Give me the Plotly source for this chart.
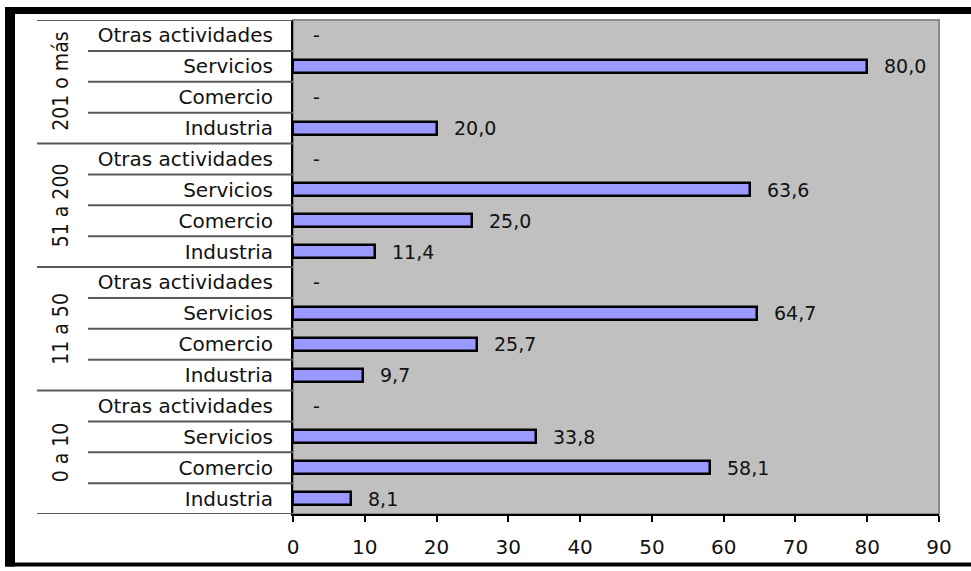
import plotly.graph_objects as go

# Company size groups (bottom to top) and activity sectors within each group
groups = ["0 a 10", "11 a 50", "51 a 200", "201 o más"]
sectors = ["Industria", "Comercio", "Servicios", "Otras actividades"]

# Percentages per group, in sector order
values = {
    "0 a 10":    [8.1, 58.1, 33.8, 0.0],
    "11 a 50":   [9.7, 25.7, 64.7, 0.0],
    "51 a 200":  [11.4, 25.0, 63.6, 0.0],
    "201 o más": [20.0, 0.0, 80.0, 0.0],
}

x_ticks = [0, 10, 20, 30, 40, 50, 60, 70, 80, 90]

# Figure geometry (pixels)
W, H = 971, 571
L, R, T, B = 293, 939, 20, 518


def px_x(px):
    return (px - L) / (R - L)


def px_y(py):
    return (B - py) / (B - T)


ypos, xval, ylab = [], [], []
for gi, g in enumerate(groups):
    for si, s in enumerate(sectors):
        ypos.append(gi * len(sectors) + si)
        xval.append(values[g][si])
        ylab.append(s)


def fmt(v):
    return "-" if v == 0 else f"{v:.1f}".replace(".", ",")


fig = go.Figure()
fig.add_trace(go.Bar(
    x=xval, y=ypos, orientation="h", width=0.42,
    marker=dict(color="#9999ff",
                line=dict(color="#000000", width=[2.5 if v else 0 for v in xval])),
    hoverinfo="skip",
))

annotations = []
for x, y in zip(xval, ypos):
    annotations.append(dict(
        x=x, y=y, xref="x", yref="y", text=fmt(x), showarrow=False,
        xanchor="left", yanchor="middle", xshift=15 if x else 18,
        font=dict(family="DejaVu Sans", size=19, color="#111111"),
    ))

n = len(sectors)
for gi, g in enumerate(groups):
    annotations.append(dict(
        x=px_x(61), y=gi * n + (n - 1) / 2, xref="paper", yref="y",
        text=g, showarrow=False, textangle=-90,
        xanchor="center", yanchor="middle",
        font=dict(family="DejaVu Sans Condensed, Liberation Sans Narrow, DejaVu Sans",
                  size=21, color="#111111"),
    ))

shapes = []
# Row separators on the category axis
total = len(ypos)
for k in range(total + 1):
    yb = k - 0.5
    x0 = px_x(37) if k % n == 0 else px_x(88)
    shapes.append(dict(
        type="line", xref="paper", yref="y", x0=x0, x1=0, y0=yb, y1=yb,
        line=dict(color="#5a5a5a", width=2), layer="above",
    ))

# Plot-area border
shapes.append(dict(
    type="rect", xref="paper", yref="paper", x0=0, x1=1, y0=0, y1=1,
    line=dict(color="#8a8a8a", width=2), layer="below",
))

# Outer black frame
frame = [(5, 15, 7, 571), (5, 971, 7, 14), (5, 971, 567, 571)]
for x0, x1, y0, y1 in frame:
    shapes.append(dict(
        type="rect", xref="paper", yref="paper",
        x0=px_x(x0), x1=px_x(x1), y0=px_y(y1), y1=px_y(y0),
        fillcolor="#000000", line=dict(width=0), layer="above",
    ))

fig.update_layout(
    width=W, height=H,
    margin=dict(l=L, r=W - R, t=T, b=H - B),
    paper_bgcolor="#ffffff", plot_bgcolor="#c0c0c0",
    showlegend=False, bargap=0,
    annotations=annotations, shapes=shapes,
    xaxis=dict(
        range=[0, 90], tickvals=x_ticks, ticktext=[str(t) for t in x_ticks],
        showgrid=False, zeroline=False, showline=True, linecolor="#000000",
        linewidth=2, ticks="outside", ticklen=6, tickcolor="#000000",
        tickwidth=2, ticklabelstandoff=8,
        tickfont=dict(family="DejaVu Sans", size=20, color="#111111"),
    ),
    yaxis=dict(
        range=[-0.5, total - 0.5], tickvals=ypos, ticktext=ylab,
        showgrid=False, zeroline=False, showline=True, linecolor="#000000",
        linewidth=2, ticks="", ticklabelstandoff=14,
        tickfont=dict(family="DejaVu Sans", size=20, color="#111111"),
    ),
)

fig.write_html("out.html")
